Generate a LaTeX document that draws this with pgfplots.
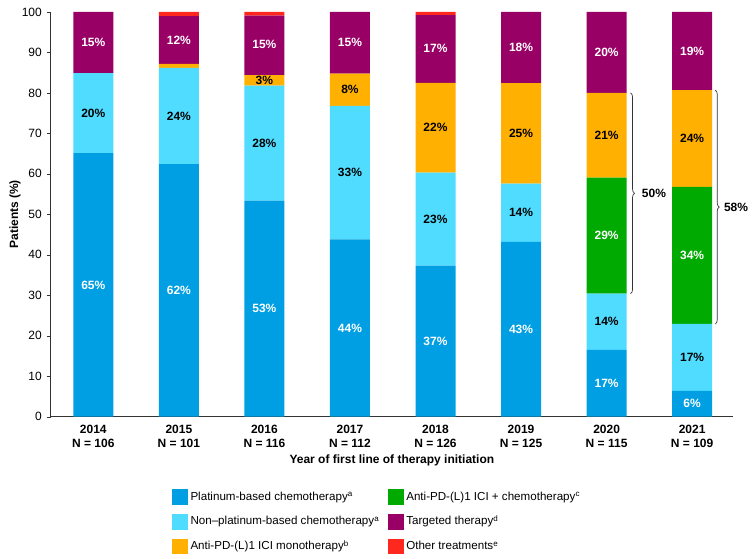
\documentclass[border=0pt]{standalone}
\usepackage{pgfplots}
\pgfplotsset{compat=1.18}
\usepackage{fontspec}
\setmainfont{Liberation Sans}
\usetikzlibrary{decorations.pathreplacing}
\definecolor{cplat}{RGB}{0,159,227}
\definecolor{cnon}{RGB}{80,220,255}
\definecolor{ccombo}{RGB}{0,170,0}
\definecolor{cmono}{RGB}{255,176,0}
\definecolor{ctarg}{RGB}{153,0,102}
\definecolor{cother}{RGB}{255,40,30}
\tikzset{wl/.style={font=\fontsize{9}{10}\selectfont\bfseries, text=white},
         bl/.style={font=\fontsize{9}{10}\selectfont\bfseries, text=black}}
\newcommand{\supr}[1]{\raisebox{0.55ex}{\fontsize{6}{6}\selectfont #1}}
\begin{document}
\begin{tikzpicture}
\useasboundingbox (-37.9pt,-106.7pt) rectangle (526.1pt,312.5pt);
\begin{axis}[
  scale only axis,
  width=512pt, height=303.5pt,
  ybar stacked,
  bar width=30pt,
  xmin=-0.5, xmax=7.48,
  ymin=0, ymax=100,
  ytick={0,10,...,100},
  xtick={0,...,7},
  xticklabels={{2014\\N = 106},{2015\\N = 101},{2016\\N = 116},{2017\\N = 112},{2018\\N = 126},{2019\\N = 125},{2020\\N = 115},{2021\\N = 109}},
  xticklabel style={align=center, font=\fontsize{9}{10.5}\selectfont\bfseries},
  yticklabel style={font=\fontsize{9}{10}\selectfont},
  /pgf/number format/assume math mode=true,
  axis lines*=left,
  axis line style={black!80, line width=0.6pt},
  xtick style={draw=none},
  ytick style={black!80},
  tick align=outside,
  major tick length=3pt,
  ylabel={Patients (\%)},
  ylabel style={font=\fontsize{9}{10}\selectfont\bfseries, at={(axis description cs:-0.052,0.5)}, anchor=center, rotate=0},
  xlabel={Year of first line of therapy initiation},
  xlabel style={font=\fontsize{9}{10}\selectfont\bfseries, at={(axis description cs:0.5,-0.107)}, anchor=center},
  legend columns=2,
  legend cell align=left,
  legend style={draw=none, at={(axis description cs:0.178,-0.178)}, anchor=north west,
    font=\fontsize{8.7}{10}\selectfont, inner sep=0pt,
    row sep=6.3pt,
    /tikz/every even column/.append style={column sep=5pt}},
  clip=false,
]
\addplot[fill=cplat, draw=none, forget plot] coordinates {(0,65.1) (1,62.4) (2,53.4) (3,43.8) (4,37.3) (5,43.2) (6,16.5) (7,6.4)};
\addplot[fill=cnon, draw=none, forget plot] coordinates {(0,19.8) (1,23.8) (2,28.4) (3,33.0) (4,23.0) (5,14.4) (6,13.9) (7,16.5)};
\addplot[fill=ccombo, draw=none, forget plot] coordinates {(0,0) (1,0) (2,0) (3,0) (4,0) (5,0) (6,28.7) (7,33.9)};
\addplot[fill=cmono, draw=none, forget plot] coordinates {(0,0) (1,1.0) (2,2.6) (3,8.0) (4,22.2) (5,24.8) (6,20.9) (7,23.9)};
\addplot[fill=ctarg, draw=none, forget plot] coordinates {(0,15.1) (1,11.8) (2,14.7) (3,15.2) (4,16.7) (5,17.6) (6,20.0) (7,19.3)};
\addplot[fill=cother, draw=none, forget plot] coordinates {(0,0) (1,1.0) (2,0.9) (3,0) (4,0.8) (5,0) (6,0) (7,0)};

\addlegendimage{legend image code/.code={\fill[cplat] (0pt,-5.6pt) rectangle (11.25pt,5.6pt);}}
\addlegendentry{Platinum-based chemotherapy\supr{a}}
\addlegendimage{legend image code/.code={\fill[ccombo] (0pt,-5.6pt) rectangle (11.25pt,5.6pt);}}
\addlegendentry{Anti-PD-(L)1 ICI + chemotherapy\supr{c}}
\addlegendimage{legend image code/.code={\fill[cnon] (0pt,-5.6pt) rectangle (11.25pt,5.6pt);}}
\addlegendentry{Non–platinum-based chemotherapy\supr{a}}
\addlegendimage{legend image code/.code={\fill[ctarg] (0pt,-5.6pt) rectangle (11.25pt,5.6pt);}}
\addlegendentry{Targeted therapy\supr{d}}
\addlegendimage{legend image code/.code={\fill[cmono] (0pt,-5.6pt) rectangle (11.25pt,5.6pt);}}
\addlegendentry{Anti-PD-(L)1 ICI monotherapy\supr{b}}
\addlegendimage{legend image code/.code={\fill[cother] (0pt,-5.6pt) rectangle (11.25pt,5.6pt);}}
\addlegendentry{Other treatments\supr{e}}

\path (axis cs:0,32.55) coordinate (w1) (axis cs:0,75) coordinate (b1) (axis cs:0,92.45) coordinate (w2)
      (axis cs:1,31.2) coordinate (w3) (axis cs:1,74.3) coordinate (b2) (axis cs:1,93.1) coordinate (w4)
      (axis cs:2,26.7) coordinate (w5) (axis cs:2,67.6) coordinate (b3) (axis cs:2,83.1) coordinate (b4) (axis cs:2,91.9) coordinate (w6)
      (axis cs:3,21.9) coordinate (w7) (axis cs:3,60.3) coordinate (b5) (axis cs:3,80.8) coordinate (b6) (axis cs:3,92.4) coordinate (w8)
      (axis cs:4,18.65) coordinate (w9) (axis cs:4,48.8) coordinate (b7) (axis cs:4,71.4) coordinate (b8) (axis cs:4,90.9) coordinate (w10)
      (axis cs:5,21.6) coordinate (w11) (axis cs:5,50.4) coordinate (b9) (axis cs:5,70) coordinate (b10) (axis cs:5,91.2) coordinate (w12)
      (axis cs:6,8.25) coordinate (w13) (axis cs:6,23.45) coordinate (b11) (axis cs:6,44.75) coordinate (w14) (axis cs:6,69.55) coordinate (b12) (axis cs:6,90) coordinate (w15)
      (axis cs:7,3.2) coordinate (w16) (axis cs:7,14.65) coordinate (b13) (axis cs:7,39.85) coordinate (w17) (axis cs:7,68.75) coordinate (b14) (axis cs:7,90.35) coordinate (w18);
\draw[black!80, line width=0.5pt, decorate, decoration={brace, amplitude=3pt}]
  (axis cs:6.28,80) -- (axis cs:6.28,30.4) node[midway, right=5pt, bl] {50\%};
\draw[black!80, line width=0.5pt, decorate, decoration={brace, amplitude=3pt}]
  (axis cs:7.27,80.7) -- (axis cs:7.27,22.9) node[midway, right=3pt, bl] {58\%};
\end{axis}
\node[wl] at (w1) {65\%};
\node[bl] at (b1) {20\%};
\node[wl] at (w2) {15\%};
\node[wl] at (w3) {62\%};
\node[bl] at (b2) {24\%};
\node[wl] at (w4) {12\%};
\node[wl] at (w5) {53\%};
\node[bl] at (b3) {28\%};
\node[bl] at (b4) {3\%};
\node[wl] at (w6) {15\%};
\node[wl] at (w7) {44\%};
\node[bl] at (b5) {33\%};
\node[bl] at (b6) {8\%};
\node[wl] at (w8) {15\%};
\node[wl] at (w9) {37\%};
\node[bl] at (b7) {23\%};
\node[bl] at (b8) {22\%};
\node[wl] at (w10) {17\%};
\node[wl] at (w11) {43\%};
\node[bl] at (b9) {14\%};
\node[bl] at (b10) {25\%};
\node[wl] at (w12) {18\%};
\node[wl] at (w13) {17\%};
\node[bl] at (b11) {14\%};
\node[wl] at (w14) {29\%};
\node[bl] at (b12) {21\%};
\node[wl] at (w15) {20\%};
\node[wl] at (w16) {6\%};
\node[bl] at (b13) {17\%};
\node[wl] at (w17) {34\%};
\node[bl] at (b14) {24\%};
\node[wl] at (w18) {19\%};
\end{tikzpicture}
\end{document}
